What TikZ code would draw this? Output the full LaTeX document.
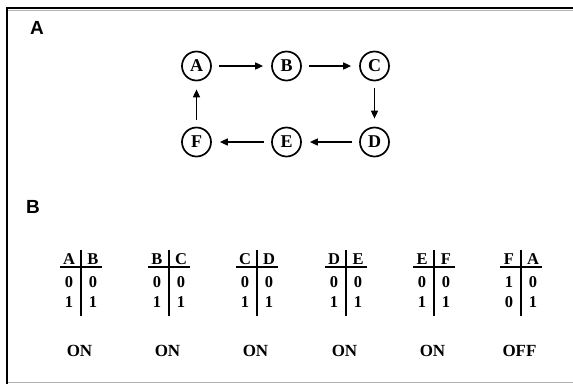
\documentclass[tikz,border=0pt]{standalone}
\usepackage{fontspec}
\setmainfont{Liberation Serif}
\setsansfont{Liberation Sans}
\usetikzlibrary{arrows.meta}
\begin{document}
\begin{tikzpicture}[x=1pt,y=-1pt,
  state/.style={circle,draw,line width=1.7pt,minimum size=29pt,inner sep=0pt,
    font=\bfseries\fontsize{18}{18}\selectfont},
  flow/.style={-{Triangle[length=8pt,width=7pt]},line width=1.6pt,
    shorten <=7pt,shorten >=8pt},
  cell/.style={inner sep=0pt,anchor=base,font=\bfseries\fontsize{16.5}{16.5}\selectfont},
  verdict/.style={inner sep=0pt,anchor=base,font=\bfseries\fontsize{17}{17}\selectfont},
  panel/.style={inner sep=0pt,font=\sffamily\bfseries\fontsize{19}{19}\selectfont},
  hrule/.style={line width=2.2pt},
  vrule/.style={line width=1.6pt}]
\useasboundingbox (0,0) rectangle (573,384);

% frame
\draw[line width=2.6pt] (6,8) -- (573,8);
\draw[gray!60,line width=0.8pt] (8,10.6) -- (573,10.6);
\draw[line width=2.6pt] (7,7) -- (7,384);
\draw[gray!60,line width=1pt] (8,382.5) -- (573,382.5);

% panel letters
\node[panel] (pA) at (37,28) {A};
\node[panel] (pB) at (33,207) {B};

% ring of states
\node[state] (A) at (196.5,66) {A};
\node[state] (B) at (286.5,66) {B};
\node[state] (C) at (374.5,66) {C};
\node[state] (D) at (374.5,142) {D};
\node[state] (E) at (286.5,142) {E};
\node[state] (F) at (196.5,142) {F};
\draw[flow] (A) -- (B);
\draw[flow] (B) -- (C);
\draw[flow] (C) -- (D);
\draw[flow] (D) -- (E);
\draw[flow] (E) -- (F);
\draw[flow] (F) -- (A);

% truth tables
\foreach \x/\l/\r/\a/\b/\c/\d/\v [count=\i] in
  {81/A/B/0/0/1/1/ON, 169/B/C/0/0/1/1/ON, 257/C/D/0/0/1/1/ON,
   346/D/E/0/0/1/1/ON, 434/E/F/0/0/1/1/ON, 521/F/A/1/0/0/1/OFF}{
  \node[cell] (hl\i) at (\x-12,264) {\l};
  \node[cell] (hr\i) at (\x+12,264) {\r};
  \node[cell] (a\i) at (\x-12,287) {\a};
  \node[cell] (b\i) at (\x+12,287) {\b};
  \node[cell] (c\i) at (\x-12,307) {\c};
  \node[cell] (d\i) at (\x+12,307) {\d};
  \node[verdict] (v\i) at (\x-1.5,356) {\v};
  \draw[hrule] (\x-21,267) -- (\x+21,267);
  \draw[vrule] (\x,250) -- (\x,316);
}
\end{tikzpicture}
\end{document}
